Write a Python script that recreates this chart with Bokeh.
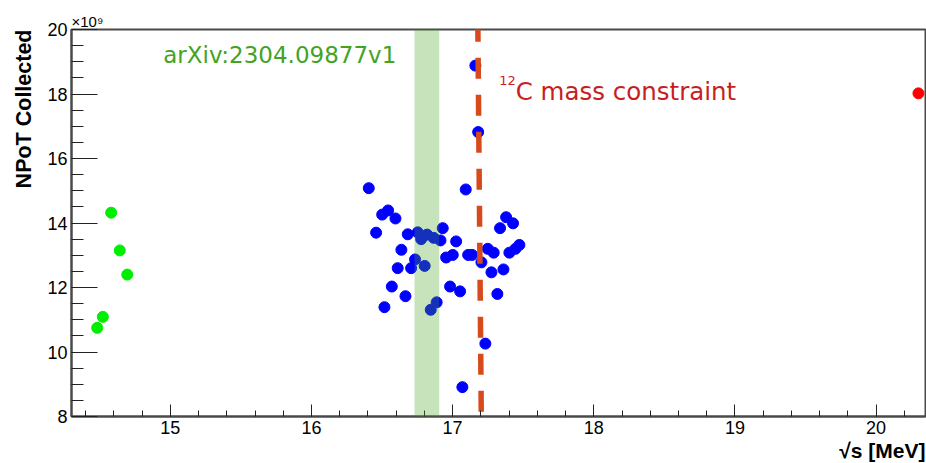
import numpy as np
from bokeh.plotting import figure
from bokeh.models import Range1d, Label, BoxAnnotation, FixedTicker, Title
from bokeh.embed import file_html
from bokeh.resources import INLINE

# ---- data (NPoT in units of 1e9, sqrt(s) in MeV) ----
blue_x = [16.406, 17.093, 16.501, 16.543, 16.595, 16.458, 16.682, 16.753, 16.777, 16.819,
          16.866, 16.914, 16.930, 17.025, 16.637, 16.734, 16.611, 16.706, 16.802, 16.954,
          17.001, 17.110, 17.138, 17.204, 17.249, 17.291, 17.379, 17.428, 17.336, 17.275,
          17.360, 17.402, 17.445, 17.473, 16.569, 16.666, 16.517, 16.982, 17.053, 17.317,
          16.887, 16.845, 17.232, 17.069, 17.161, 17.181]
blue_y = [15.08, 15.04, 14.26, 14.39, 14.14, 13.70, 13.65, 13.71, 13.50, 13.64,
          13.54, 13.46, 13.84, 13.43, 13.17, 12.87, 12.60, 12.60, 12.67, 12.93,
          13.01, 13.01, 13.01, 12.78, 13.20, 13.08, 14.18, 13.99, 13.84, 12.47,
          12.56, 13.08, 13.20, 13.32, 12.03, 11.73, 11.39, 12.03, 11.88, 11.80,
          11.54, 11.31, 10.26, 8.91, 18.88, 16.82]
green_x = [14.581, 14.642, 14.695, 14.522, 14.482]
green_y = [14.32, 13.15, 12.40, 11.09, 10.75]
red_x = [20.30]
red_y = [18.02]

band_lo, band_hi = 16.73, 16.905          # arXiv:2304.09877v1 band
cut_x = [17.205, 17.177]                  # 12C mass constraint line
cut_y = [7.0, 21.0]

x_ticks = [15, 16, 17, 18, 19, 20]
y_ticks = [8, 10, 12, 14, 16, 18, 20]

X0, X1 = 14.3, 20.35
Y0, Y1 = 8.0, 20.0

p = figure(width=926, height=463, output_backend="svg", toolbar_location=None,
           x_range=Range1d(X0, X1), y_range=Range1d(Y0, Y1))
p.min_border_left = 71
p.min_border_right = 1
p.min_border_top = 29
p.min_border_bottom = 47
p.background_fill_color = "white"
p.border_fill_color = "white"
p.outline_line_color = "#4a4a4a"
p.outline_line_width = 2
p.xgrid.visible = False
p.ygrid.visible = False

# axes
p.xaxis.ticker = FixedTicker(ticks=x_ticks,
                             minor_ticks=list(np.round(np.arange(14.4, 20.35, 0.2), 2)))
p.yaxis.ticker = FixedTicker(ticks=y_ticks,
                             minor_ticks=list(np.arange(8.5, 20.0, 0.5)))
for ax in (p.xaxis[0], p.yaxis[0]):
    ax.axis_line_color = "#4a4a4a"
    ax.axis_line_width = 2
    ax.major_tick_line_color = "#222222"
    ax.minor_tick_line_color = "#222222"
    ax.major_tick_out = 0
    ax.minor_tick_out = 0
    ax.major_label_text_font = "Liberation Sans"
    ax.major_label_text_font_size = "18px"
    ax.major_label_text_color = "black"
p.yaxis.major_tick_in = 26
p.yaxis.minor_tick_in = 12
p.xaxis.major_tick_in = 12
p.xaxis.minor_tick_in = 6
p.xaxis.major_label_standoff = 4
p.yaxis.major_label_standoff = 4

# axis titles and exponent (as titles in the border panels)
p.add_layout(Title(text="√s [MeV]", align="right", text_font="Liberation Sans",
                   text_font_style="bold", text_font_size="21px", text_color="black",
                   standoff=0, offset=0), "below")
p.add_layout(Title(text="NPoT Collected", align="right", text_font="Liberation Sans",
                   text_font_style="bold", text_font_size="21.5px", text_color="black",
                   standoff=18), "left")
p.add_layout(Title(text="×10⁹", align="left", text_font="Liberation Sans",
                   text_font_style="normal", text_font_size="15px", text_color="black",
                   standoff=0), "above")

# points
p.scatter(green_x, green_y, size=11, color="#00EE00")
p.scatter(blue_x, blue_y, size=11, color="#0000FF")
p.scatter(red_x, red_y, size=11, color="#FF0000")

# band and constraint line on top
p.add_layout(BoxAnnotation(left=band_lo, right=band_hi, fill_color="#44A322",
                           fill_alpha=0.3, line_alpha=0))
p.line(cut_x, cut_y, line_color="#D64A1B", line_width=5.5, line_dash="21 16")

# texts
p.add_layout(Label(x=14.95, y=19.2, text="arXiv:2304.09877v1", text_color="#44A322",
                   text_font="DejaVu Sans", text_font_size="23px",
                   text_baseline="alphabetic"))
p.add_layout(Label(x=17.331, y=18.42, text="12", text_color="#C81E1E",
                   text_font="DejaVu Sans", text_font_size="13px",
                   text_baseline="alphabetic"))
p.add_layout(Label(x=17.447, y=18.08, text="C mass constraint", text_color="#C81E1E",
                   text_font="DejaVu Sans", text_font_size="24.5px",
                   text_baseline="alphabetic"))

open("out.html", "w").write(file_html(p, INLINE))
